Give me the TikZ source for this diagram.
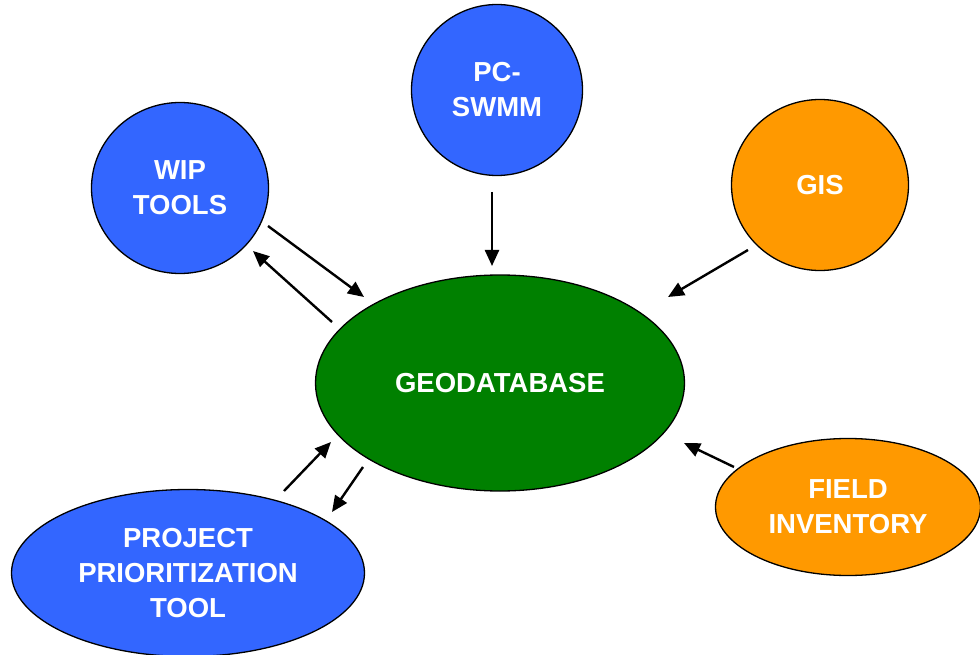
\documentclass[tikz,border=0pt]{standalone}
\usepackage{fontspec}
\setmainfont{Liberation Sans}
\usetikzlibrary{shapes.geometric,arrows.meta}
\definecolor{nblue}{HTML}{3366FF}
\definecolor{ngreen}{HTML}{008000}
\definecolor{norange}{HTML}{FF9900}
\begin{document}
\begin{tikzpicture}[x=1pt,y=-1pt,
  blob/.style={ellipse,draw=black,line width=1.3pt,inner sep=0pt,
    text=white,font=\fontsize{27.5}{35}\selectfont\bfseries,align=center},
  arr/.style={line width=2.4pt,-{Triangle[length=16pt,width=14pt]}}]
\useasboundingbox (0,0) rectangle (980,655);
\clip (0,0) rectangle (980,655);
\node[blob,fill=nblue,minimum width=171pt,minimum height=171pt] (pc) at (497,90) {PC-\\SWMM};
\node[blob,fill=nblue,minimum width=177pt,minimum height=171pt] (wip) at (180,188) {WIP\\TOOLS};
\node[blob,fill=norange,minimum width=177pt,minimum height=171pt] (gis) at (820,185) {GIS};
\node[blob,fill=ngreen,minimum width=369pt,minimum height=216pt] (geo) at (500,383) {GEODATABASE};
\node[blob,fill=norange,minimum width=265pt,minimum height=137pt] (field) at (848,507) {FIELD\\INVENTORY};
\node[blob,fill=nblue,minimum width=353pt,minimum height=167pt] (proj) at (188,573) {PROJECT\\PRIORITIZATION\\TOOL};
\coordinate (pcA) at (492,192); \coordinate (pcB) at (492,266);
\coordinate (wA) at (268,226); \coordinate (wB) at (364,297);
\coordinate (gwA) at (332,322); \coordinate (gwB) at (253,251);
\coordinate (gisA) at (748,250); \coordinate (gisB) at (668,297);
\coordinate (fA) at (734,467); \coordinate (fB) at (684,443);
\coordinate (pA) at (284,491); \coordinate (pB) at (331,442);
\coordinate (gpA) at (363,467); \coordinate (gpB) at (332,512);
\draw[arr] (pcA) -- (pcB);
\draw[arr] (wA) -- (wB);
\draw[arr] (gwA) -- (gwB);
\draw[arr] (gisA) -- (gisB);
\draw[arr] (fA) -- (fB);
\draw[arr] (pA) -- (pB);
\draw[arr] (gpA) -- (gpB);
\end{tikzpicture}
\end{document}
